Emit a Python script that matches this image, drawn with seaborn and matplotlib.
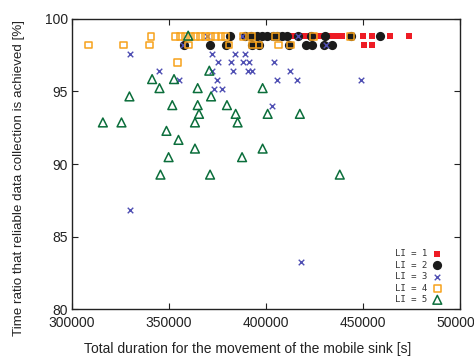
import numpy as np
import pandas as pd
import matplotlib
matplotlib.use("Agg")
import matplotlib.pyplot as plt
import seaborn as sns

# ======================================
#           DATA
# ======================================
# LI = 1 (red filled squares)
li1_x = [413700, 416300, 418900, 421400, 424000, 426600, 429200, 431800, 434400,
         437000, 439500, 443700, 450000, 454900, 464000, 474000, 450500, 454900]
li1_y = [98.8] * 16 + [98.2, 98.2]

# LI = 2 (black circles)
li2_x = [381700, 389400, 392400, 395500, 398200, 400800, 403400, 405900, 408500,
         411100, 416400, 423000, 430700, 443700, 458700,
         357500, 371200, 379200, 392900, 396400, 412000, 420900, 424000, 430200, 434100]
li2_y = [98.8] * 15 + [98.2] * 10

# LI = 3 (crosses)
li3_x = [330000, 329800, 344600, 355100, 357400, 369800, 372000, 372000, 373000,
         374700, 375200, 377200, 382200, 383100, 383900, 387900, 388000, 389400,
         390600, 391300, 392800, 403000, 404400, 405800, 412300, 416100, 416300,
         418200, 431000, 448800]
li3_y = [97.6, 86.85, 96.4, 95.8, 98.2, 98.8, 97.6, 96.4, 95.2,
         95.8, 97.0, 95.2, 97.0, 96.4, 97.6, 98.8, 97.0, 97.6,
         96.4, 97.0, 96.4, 94.0, 97.0, 95.8, 96.4, 95.8, 98.8,
         83.3, 98.2, 95.8]

# LI = 4 (open squares)
li4_x = [340700, 353200, 355800, 358400, 361000, 363600, 366200, 368700, 371300,
         373900, 376800, 379100, 388200, 392400, 404900, 424700, 443700,
         308600, 326700, 339900, 359900, 381000, 393100, 396400, 406600, 412500,
         354600]
li4_y = [98.8] * 17 + [98.2] * 9 + [97.0]

# LI = 5 (open triangles)
li5_x = [315900, 325500, 329600, 341300, 345100, 345600, 348700, 349800, 351700,
         352600, 354900, 359900, 363400, 363400, 364800, 364800, 365500, 370800,
         371200, 371700, 379900, 384400, 385400, 387700, 398300, 398300, 400900,
         417500, 438100]
li5_y = [92.87, 92.87, 94.66, 95.85, 95.23, 89.28, 92.29, 90.48, 94.06,
         95.85, 91.67, 98.84, 92.87, 91.07, 95.23, 94.06, 93.46, 96.43,
         89.28, 94.66, 94.06, 93.46, 92.87, 90.48, 95.23, 91.07, 93.46,
         93.46, 89.28]

# ======================================
#           PLOT
# ======================================
sns.set_style("ticks")
plt.rcParams["font.family"] = ["Liberation Sans", "DejaVu Sans"]

fig = plt.figure(figsize=(4.74, 3.58), dpi=100)
ax = fig.add_axes([0.152, 0.1355, 0.818, 0.812])

sns.scatterplot(x=li1_x, y=li1_y, marker="s", s=24, color="#ee1c25",
                edgecolor="#ee1c25", linewidth=0, label="LI = 1", ax=ax, zorder=3)
sns.scatterplot(x=li2_x, y=li2_y, marker="o", s=44, color="#1b1b1b",
                edgecolor="#1b1b1b", linewidth=0, label="LI = 2", ax=ax, zorder=4)
sns.scatterplot(x=li3_x, y=li3_y, marker="x", s=16, color="#4f4fb3",
                linewidth=1.0, label="LI = 3", ax=ax, zorder=5)
sns.scatterplot(x=li4_x, y=li4_y, marker="s", s=24, color="#f7a21b",
                facecolor="none", edgecolor="#f7a21b", linewidth=1.1,
                label="LI = 4", ax=ax, zorder=6)
sns.scatterplot(x=li5_x, y=li5_y, marker="^", s=40, color="#0b6e3b",
                facecolor="none", edgecolor="#0b6e3b", linewidth=1.1,
                label="LI = 5", ax=ax, zorder=7)

ax.set_xlim(300000, 500000)
ax.set_ylim(80, 100)
ax.set_xticks([300000, 350000, 400000, 450000, 500000])
ax.set_yticks([80, 85, 90, 95, 100])
ax.tick_params(direction="in", top=True, right=True, length=4, width=0.8,
               labelsize=10, colors="#222222")
ax.tick_params(axis="x", pad=5)
ax.tick_params(axis="y", pad=3)
for sp in ax.spines.values():
    sp.set_linewidth(1.0)
    sp.set_color("#222222")

ax.set_xlabel("Total duration for the movement of the mobile sink [s]",
              fontsize=10, color="#222222")
ax.set_ylabel("Time ratio that reliable data collection is achieved [%]",
              fontsize=9.6, color="#222222")
ax.xaxis.set_label_coords(0.454, -0.112)
ax.yaxis.set_label_coords(-0.121, 0.452)

leg = ax.legend(loc="lower right", frameon=False, markerfirst=False,
                prop={"family": "DejaVu Sans Mono", "size": 6.5},
                handletextpad=0.6, labelspacing=0.28, borderaxespad=0,
                bbox_to_anchor=(0.963, 0.006), handlelength=1.0)
for t in leg.get_texts():
    t.set_color("#333333")

fig.savefig("out.png", dpi=100)
